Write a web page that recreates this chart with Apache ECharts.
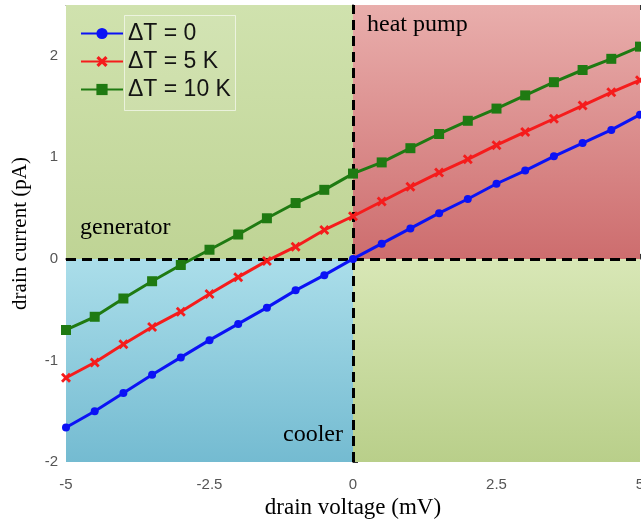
<!DOCTYPE html>
<html>
<head>
<meta charset="utf-8">
<script src="https://cdn.jsdelivr.net/npm/echarts@6/dist/echarts.min.js"></script>
<style>
  html, body { margin: 0; padding: 0; background: #fff; }
  #chart { width: 641px; height: 519px; }
</style>
</head>
<body>
<div id="chart"></div>
<script>
  // drain voltage (mV)
  const voltage = [-5, -4.5, -4, -3.5, -3, -2.5, -2, -1.5, -1, -0.5, 0, 0.5, 1, 1.5, 2, 2.5, 3, 3.5, 4, 4.5, 5]
  // drain current (pA) for each temperature difference
  const dT0 = [-1.66, -1.50, -1.32, -1.14, -0.97, -0.80, -0.64, -0.48, -0.31, -0.16, 0, 0.15, 0.30, 0.45, 0.59, 0.74, 0.87, 1.01, 1.14, 1.27, 1.42]
  const dT5 = [-1.17, -1.02, -0.84, -0.67, -0.52, -0.345, -0.18, -0.02, 0.12, 0.285, 0.42, 0.565, 0.71, 0.85, 0.98, 1.12, 1.25, 1.38, 1.51, 1.64, 1.76]
  const dT10 = [-0.70, -0.57, -0.39, -0.22, -0.06, 0.09, 0.24, 0.40, 0.55, 0.68, 0.84, 0.95, 1.09, 1.23, 1.36, 1.48, 1.61, 1.74, 1.86, 1.97, 2.09]
  const seriesNames = ['\u0394T = 0', '\u0394T = 5 K', '\u0394T = 10 K']
  const colors = ['#0b12f5', '#f51c1c', '#1f7a12']

  const crossSymbol = 'path://M0,2L2,0L5,3L8,0L10,2L7,5L10,8L8,10L5,7L2,10L0,8L3,5Z'
  const serif = '"Liberation Serif", "DejaVu Serif", serif'
  const sans = '"Liberation Sans", Arial, sans-serif'

  const grad = (top, bottom) => new echarts.graphic.LinearGradient(0, 0, 0, 1, [
    { offset: 0, color: top },
    { offset: 1, color: bottom },
  ])

  const toPairs = (ys) => voltage.map((x, i) => [x, ys[i]])

  const mkLine = (name, data, color, symbol, size) => ({
    name,
    type: 'line',
    data: toPairs(data),
    color,
    symbol,
    symbolSize: size,
    lineStyle: { width: 3, color },
    itemStyle: { color },
    clip: true,
    z: 5,
  })

  const series = [
    mkLine(seriesNames[0], dT0, colors[0], 'circle', 8),
    mkLine(seriesNames[1], dT5, colors[1], crossSymbol, 10),
    mkLine(seriesNames[2], dT10, colors[2], 'rect', 10),
  ]

  // quadrant backgrounds and dashed zero lines
  series[0].markArea = {
    silent: true,
    data: [
      [{ coord: [-5, 0], itemStyle: { color: grad('#d0e2ae', '#bfd495') } }, { coord: [0, 2.5] }],
      [{ coord: [0, 0], itemStyle: { color: grad('#e9aeac', '#cd6d6e') } }, { coord: [5, 2.5] }],
      [{ coord: [-5, -2], itemStyle: { color: grad('#abdeea', '#74bbd1') } }, { coord: [0, 0] }],
      [{ coord: [0, -2], itemStyle: { color: grad('#d8e7b6', '#b9cf8a') } }, { coord: [5, 0] }],
    ],
  }
  series[0].markLine = {
    silent: true,
    symbol: 'none',
    label: { show: false },
    lineStyle: { color: '#000', width: 3, type: [10, 6] },
    data: [{ xAxis: 0 }, { yAxis: 0 }],
    z: 3,
  }

  const option = {
    animation: false,
    backgroundColor: '#fff',
    grid: { left: 66, right: 1, top: 5, bottom: 57, outerBoundsMode: 'none' },
    legend: {
      left: 75,
      top: 17,
      orient: 'vertical',
      itemWidth: 42,
      itemHeight: 14,
      itemGap: 5,
      data: seriesNames,
      textStyle: { fontFamily: sans, fontSize: 23, color: '#000' },
    },
    xAxis: [
      {
        type: 'value',
        min: -5,
        max: 5,
        interval: 2.5,
        name: 'drain voltage (mV)',
        nameLocation: 'middle',
        nameGap: 31,
        nameTextStyle: { fontFamily: serif, fontSize: 23, color: '#000' },
        axisLine: { lineStyle: { color: '#333', width: 1.5 } },
        axisTick: { inside: true, length: 5, lineStyle: { color: '#333' } },
        axisLabel: { margin: 15, fontFamily: sans, fontSize: 15, color: '#555' },
        splitLine: { show: false },
      },
      {
        type: 'value',
        position: 'top',
        min: -5,
        max: 5,
        interval: 2.5,
        axisLine: { lineStyle: { color: '#666', width: 1 } },
        axisTick: { inside: true, length: 5, lineStyle: { color: '#333' } },
        axisLabel: { show: false },
        splitLine: { show: false },
      },
    ],
    yAxis: [
      {
        type: 'value',
        min: -2,
        max: 2.5,
        interval: 1,
        name: 'drain current (pA)',
        nameLocation: 'middle',
        nameGap: 35,
        nameTextStyle: { fontFamily: serif, fontSize: 21, color: '#000' },
        axisLine: { show: true, lineStyle: { color: '#333', width: 1.5 } },
        axisTick: { inside: true, length: 5, lineStyle: { color: '#333' } },
        axisLabel: { margin: 8, fontFamily: sans, fontSize: 15, color: '#555', showMaxLabel: false },
        splitLine: { show: false },
      },
    ],
    graphic: [
      {
        type: 'rect',
        left: 124,
        top: 15,
        shape: { width: 111, height: 95 },
        style: { fill: 'rgba(255,255,255,0.08)', stroke: 'rgba(255,255,255,0.6)', lineWidth: 1 },
        z: 90,
      },
      { type: 'text', left: 80, top: 216, style: { text: 'generator', font: '24px ' + serif, fill: '#000' }, z: 100 },
      { type: 'text', left: 367, top: 13, style: { text: 'heat pump', font: '24px ' + serif, fill: '#000' }, z: 100 },
      { type: 'text', left: 283, top: 423, style: { text: 'cooler', font: '24px ' + serif, fill: '#000' }, z: 100 },
    ],
    series,
  }

  const chart = echarts.init(document.getElementById('chart'))
  chart.setOption(option)
  window.addEventListener('resize', function () {
    chart && chart.resize()
  })
</script>
</body>
</html>
